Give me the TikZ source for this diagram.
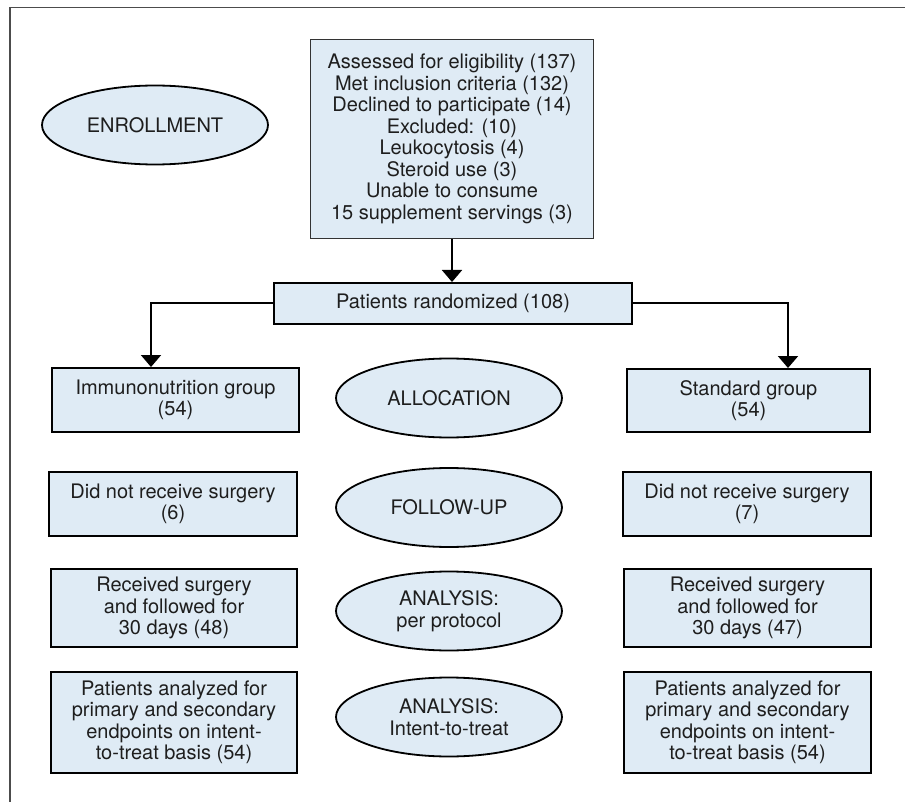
\documentclass[tikz,border=0pt]{standalone}
\usepackage{fontspec}
\setmainfont{TeX Gyre Heros}
\usetikzlibrary{arrows.meta,shapes.geometric}
\definecolor{boxfill}{RGB}{223,235,245}
\definecolor{txt}{RGB}{30,30,30}
\begin{document}
\begin{tikzpicture}[x=1pt,y=-1pt,
  every node/.style={font=\fontsize{20}{21.5}\selectfont, text=txt, align=center, inner sep=0pt},
  box/.style={draw=black, line width=2pt, fill=boxfill},
  topbox/.style={draw=black!80, line width=1.2pt, fill=boxfill},
  phase/.style={ellipse, draw=black, line width=1.8pt, fill=boxfill, minimum width=226pt, minimum height=79pt},
  arr/.style={line width=2pt, -{Triangle[width=20pt,length=12pt]}},
  frame/.style={draw=black!70, line width=1.5pt}]
\useasboundingbox (0,0) rectangle (905,802);
\draw[frame] (10,802) -- (10,7.5) -- (905,7.5);

% boxes
\node[topbox, minimum width=283pt, minimum height=199pt] (elig) at (452,139)
  {Assessed for eligibility (137)\\Met inclusion criteria (132)\\Declined to participate (14)\\Excluded: (10)\\Leukocytosis (4)\\Steroid use (3)\\Unable to consume\\15 supplement servings (3)};
\node[box, minimum width=358pt, minimum height=41pt] (rand) at (453,303.5) {Patients randomized (108)};
\node[box, minimum width=247pt, minimum height=64pt] (immg) at (175.5,400) {Immunonutrition group\\(54)};
\node[box, minimum width=243pt, minimum height=63pt] (stdg) at (748.5,400.5) {Standard group\\(54)};
\node[box, minimum width=248pt, minimum height=64pt] (dnrl) at (173,504) {Did not receive surgery\\(6)};
\node[box, minimum width=248pt, minimum height=64pt] (dnrr) at (747,504) {Did not receive surgery\\(7)};
\node[box, minimum width=246pt, minimum height=78pt] (recl) at (174,608) {Received surgery\\and followed for\\30 days (48)};
\node[box, minimum width=247pt, minimum height=78pt] (recr) at (747.5,608) {Received surgery\\and followed for\\30 days (47)};
\node[box, minimum width=246pt, minimum height=101pt] (patl) at (174,722.5) {Patients analyzed for\\primary and secondary\\endpoints on intent-\\to-treat basis (54)};
\node[box, minimum width=247pt, minimum height=101pt] (patr) at (747.5,722.5) {Patients analyzed for\\primary and secondary\\endpoints on intent-\\to-treat basis (54)};

% phases
\node[phase] (enroll) at (155,125) {ENROLLMENT};
\node[phase] (alloc) at (449,398) {ALLOCATION};
\node[phase] (follow) at (449,507.5) {FOLLOW-UP};
\node[phase] (perprot) at (449,611) {ANALYSIS:\\per protocol};
\node[phase] (itt) at (449,717) {ANALYSIS:\\Intent-to-treat};

% connectors
\draw[arr] (elig.south) -- (elig.south |- rand.north);
\draw[arr] (rand.west) -| ([xshift=-24.5pt]immg.north);
\draw[arr] (rand.east) -| ([xshift=39.5pt]stdg.north);
\end{tikzpicture}
\end{document}
